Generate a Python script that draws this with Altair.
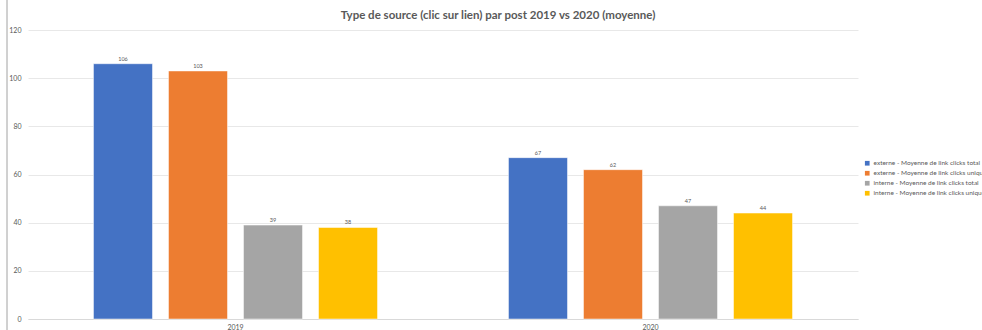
import altair as alt
import pandas as pd

years = ["2019", "2020"]
series = [
    "externe - Moyenne de link clicks total",
    "externe - Moyenne de link clicks unique",
    "interne - Moyenne de link clicks total",
    "interne - Moyenne de link clicks unique",
]
values_2019 = [106, 103, 39, 38]
values_2020 = [67, 62, 47, 44]
colors = ["#4472C4", "#ED7D31", "#A5A5A5", "#FFC000"]

rows = []
for y, vals in zip(years, [values_2019, values_2020]):
    for i, (s, v) in enumerate(zip(series, vals)):
        rows.append({"year": y, "series": s, "value": v, "order": i})
df = pd.DataFrame(rows)

FONT = "Lato"

base = alt.Chart(df).encode(
    x=alt.X("year:N", sort=years,
            scale=alt.Scale(paddingInner=0.277, paddingOuter=0.1385),
            axis=alt.Axis(title=None, labelAngle=0, labelFontSize=7, labelColor="#595959",
                          labelFont=FONT, domainColor="#d9d9d9", ticks=False, labelPadding=4)),
    xOffset=alt.XOffset("series:N", sort=series,
                        scale=alt.Scale(paddingInner=0.213, paddingOuter=0.1065)),
)

bars = base.mark_bar(stroke="white", strokeWidth=0.5).encode(
    y=alt.Y("value:Q", scale=alt.Scale(domain=[0, 120]),
            axis=alt.Axis(title=None, values=[0, 20, 40, 60, 80, 100, 120], labelFontSize=7,
                          labelColor="#595959", labelFont=FONT, domain=False, ticks=False,
                          labelPadding=7, gridColor="#e8e8e8")),
    color=alt.Color("series:N", sort=series, scale=alt.Scale(domain=series, range=colors),
                    legend=alt.Legend(title=None, orient="none", legendX=836, legendY=130,
                                      symbolType="square", symbolSize=22, labelFontSize=6.5,
                                      labelFont=FONT, labelColor="#595959", rowPadding=3,
                                      symbolStrokeWidth=0, labelLimit=200, labelOffset=3)),
)

labels = base.mark_text(dy=-5, fontSize=5.5, color="#595959", font=FONT).encode(
    y="value:Q",
    text=alt.Text("value:Q", format=".0f"),
)

border = alt.Chart(df).mark_rule(color="#d0d0d0", strokeWidth=1).encode(
    x=alt.value(-21), y=alt.value(-30), y2=alt.value(310)
)

chart = alt.layer(bars, labels, border).properties(
    width=830, height=289,
    title=alt.TitleParams("Type de source (clic sur lien) par post 2019 vs 2020 (moyenne)",
                          fontSize=11.5, font=FONT, fontWeight="bold", color="#595959",
                          anchor="middle", dx=55, offset=8, dy=30),
    autosize=alt.AutoSizeParams(type="none"),
    padding={"left": 28, "top": 30, "right": 124, "bottom": 11},
).configure(background="white", view={"stroke": None})

chart.save("out.html", embed_options={"renderer": "svg", "actions": False})
